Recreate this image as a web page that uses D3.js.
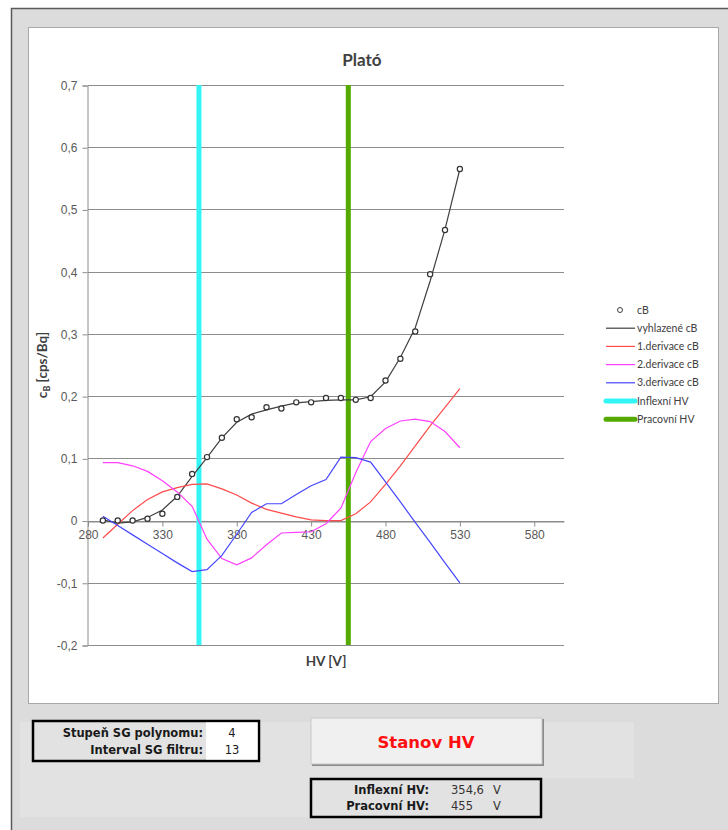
<!DOCTYPE html>
<html lang="cs">
<head>
<meta charset="utf-8">
<title>Plató</title>
<script src="https://cdn.jsdelivr.net/npm/d3@7/dist/d3.min.js"></script>
<style>
  body { margin: 0; background: #fff; }
  svg { display: block; font-family: Lato, "Open Sans", sans-serif; }
  .tick text { fill: #595959; font-size: 12px; }
  .panel text { font-family: "DejaVu Sans", sans-serif; }
</style>
</head>
<body>
<script>
// HV [V]
var hv = [290, 300, 310, 320, 330, 340, 350, 360, 370, 380, 390, 400, 410,
          420, 430, 440, 450, 460, 470, 480, 490, 500, 510, 520, 530];
// measured cB
var cB = [0.000, 0.000, 0.000, 0.003, 0.011, 0.038, 0.075, 0.102, 0.133, 0.163, 0.166, 0.182, 0.180,
          0.190, 0.190, 0.197, 0.197, 0.194, 0.197, 0.225, 0.260, 0.304, 0.396, 0.467, 0.565];
// SG smoothed cB
var smooth = [0.001, -0.004, -0.002, 0.005, 0.017, 0.039, 0.071, 0.101, 0.133, 0.158, 0.171, 0.178, 0.184,
              0.189, 0.191, 0.193, 0.194, 0.194, 0.199, 0.223, 0.262, 0.310, 0.385, 0.468, 0.565];
var d1 = [-0.028, -0.006, 0.016, 0.034, 0.046, 0.053, 0.058, 0.059, 0.051, 0.041, 0.028, 0.018, 0.012,
          0.006, 0.001, 0.000, 0.000, 0.011, 0.030, 0.058, 0.088, 0.120, 0.152, 0.182, 0.212];
var d2 = [0.093, 0.093, 0.088, 0.079, 0.064, 0.046, 0.023, -0.030, -0.061, -0.071, -0.060, -0.039, -0.020,
          -0.019, -0.018, -0.005, 0.020, 0.077, 0.127, 0.148, 0.160, 0.163, 0.159, 0.143, 0.117];
var d3v = [0.007, -0.008, -0.023, -0.038, -0.053, -0.068, -0.082, -0.079, -0.056, -0.022, 0.013, 0.027, 0.027,
           0.042, 0.056, 0.066, 0.102, 0.101, 0.094, 0.062, 0.030, -0.003, -0.035, -0.068, -0.100];

var inflexHV = 354.6;
var pracovniHV = 455;

var xTicks = [280, 330, 380, 430, 480, 530, 580];
var yTicks = [-0.2, -0.1, 0, 0.1, 0.2, 0.3, 0.4, 0.5, 0.6, 0.7];

var series = [
  { name: "vyhlazené cB", values: smooth, color: "#404040" },
  { name: "1.derivace cB", values: d1, color: "#ff4b4b" },
  { name: "2.derivace cB", values: d2, color: "#ff40ff" },
  { name: "3.derivace cB", values: d3v, color: "#4646ff" }
];
var vlines = [
  { name: "Inflexní HV", value: inflexHV, color: "#33f5f5" },
  { name: "Pracovní HV", value: pracovniHV, color: "#55aa00" }
];

var width = 728, height = 830;

var svg = d3.select("body").append("svg")
    .attr("width", width)
    .attr("height", height);

// window background + frame
svg.append("rect").attr("x", 11).attr("y", 8).attr("width", 740).attr("height", 840)
    .attr("fill", "#dcdcdc");
svg.append("path").attr("d", "M11.5,840V8.5H740")
    .attr("fill", "none").attr("stroke", "#5a5a5a").attr("stroke-width", 1.5);

// lighter panel behind controls
svg.append("path")
    .attr("d", "M20,722H634V778H310V817H20Z")
    .attr("fill", "#e2e2e2");

// chart area
svg.append("rect").attr("x", 28.5).attr("y", 27.5).attr("width", 690).attr("height", 676)
    .attr("fill", "#fff").attr("stroke", "#a8a8a8");

var x = d3.scaleLinear().domain([280, 600]).range([88, 564]);
var y = d3.scaleLinear().domain([-0.2, 0.7]).range([645, 85]);

var loc = d3.formatLocale({ decimal: ",", thousands: " ", grouping: [3], currency: ["", ""], minus: "-" });
var fmt = loc.format(".1~f");

// horizontal gridlines
svg.append("g").selectAll("line")
    .data(yTicks)
    .enter().append("line")
    .attr("x1", x(280)).attr("x2", x(600))
    .attr("y1", function(d) { return Math.round(y(d)) + 0.5; })
    .attr("y2", function(d) { return Math.round(y(d)) + 0.5; })
    .attr("stroke", "#8c8c8c");

// y axis
var yAxis = svg.append("g")
    .attr("transform", "translate(" + (x(280) - 0.5) + ",0.5)")
    .call(d3.axisLeft(y).tickValues(yTicks).tickFormat(fmt).tickSize(5).tickPadding(5));
yAxis.select(".domain").attr("stroke", "#8c8c8c");
yAxis.selectAll(".tick line").attr("stroke", "#8c8c8c");

// x axis on the zero line
var xAxis = svg.append("g")
    .attr("transform", "translate(0," + (Math.round(y(0)) + 0.5) + ")")
    .call(d3.axisBottom(x).tickValues(xTicks).tickSize(5).tickPadding(4).tickSizeOuter(0));
xAxis.select(".domain").attr("stroke", "#8c8c8c");
xAxis.selectAll(".tick line").attr("stroke", "#8c8c8c");

// vertical HV lines
svg.append("g").selectAll("line")
    .data(vlines)
    .enter().append("line")
    .attr("x1", function(d) { return x(d.value); })
    .attr("x2", function(d) { return x(d.value); })
    .attr("y1", y(0.7)).attr("y2", y(-0.2))
    .attr("stroke", function(d) { return d.color; })
    .attr("stroke-width", 5);

// series lines
var line = d3.line()
    .x(function(d, i) { return x(hv[i]); })
    .y(function(d) { return y(d); });

svg.append("g").selectAll("path")
    .data(series)
    .enter().append("path")
    .attr("d", function(d) { return line(d.values); })
    .attr("fill", "none")
    .attr("stroke", function(d) { return d.color; })
    .attr("stroke-width", 1.2);

// measured points
svg.append("g").selectAll("circle")
    .data(cB)
    .enter().append("circle")
    .attr("cx", function(d, i) { return x(hv[i]); })
    .attr("cy", function(d) { return y(d); })
    .attr("r", 2.6)
    .attr("fill", "#fff")
    .attr("stroke", "#333")
    .attr("stroke-width", 1.2);

// title and axis labels
svg.append("text").attr("x", 362).attr("y", 66)
    .attr("text-anchor", "middle").attr("font-size", 17).attr("font-weight", "bold")
    .attr("fill", "#404040").text("Plató");

svg.append("text").attr("x", 326).attr("y", 666)
    .attr("text-anchor", "middle").attr("font-size", 13.5).attr("font-weight", "bold")
    .attr("fill", "#404040").text("HV [V]");

var ylab = svg.append("text")
    .attr("transform", "translate(47,365) rotate(-90)")
    .attr("text-anchor", "middle").attr("font-size", 13.5).attr("font-weight", "bold")
    .attr("fill", "#404040");
ylab.append("tspan").text("c");
ylab.append("tspan").attr("font-size", 9).attr("dy", 3).text("B");
ylab.append("tspan").attr("dy", -3).text(" [cps/Bq]");

// legend
var legendItems = [{ name: "cB", type: "point" }]
    .concat(series.map(function(s) { return { name: s.name, type: "line", color: s.color, w: 1.2 }; }))
    .concat(vlines.map(function(v) { return { name: v.name, type: "line", color: v.color, w: 5 }; }));

var leg = svg.append("g").selectAll("g")
    .data(legendItems)
    .enter().append("g")
    .attr("transform", function(d, i) { return "translate(0," + (310 + i * 18.2) + ")"; });

leg.filter(function(d) { return d.type === "line"; }).append("line")
    .attr("x1", 606).attr("x2", 635).attr("y1", 0).attr("y2", 0)
    .attr("stroke", function(d) { return d.color; })
    .attr("stroke-width", function(d) { return d.w; })
    .attr("stroke-linecap", function(d) { return d.w > 2 ? "round" : "butt"; });

leg.filter(function(d) { return d.type === "point"; }).append("circle")
    .attr("cx", 620).attr("cy", 0).attr("r", 2.5)
    .attr("fill", "#fff").attr("stroke", "#404040");

leg.append("text")
    .attr("x", 637).attr("y", 3.5)
    .attr("font-size", 10.5).attr("fill", "#404040")
    .text(function(d) { return d.name; });

// controls panel
var panel = svg.append("g").attr("class", "panel");

var sgLabels = ["Stupeň SG polynomu:", "Interval SG filtru:"];
var sgValues = ["4", "13"];

panel.append("rect").attr("x", 33).attr("y", 721).attr("width", 226).attr("height", 40)
    .attr("fill", "#e2e2e2").attr("stroke", "#000").attr("stroke-width", 2.5);
panel.append("rect").attr("x", 206).attr("y", 722.5).attr("width", 51.5).attr("height", 37)
    .attr("fill", "#fff");
panel.selectAll(".sgl").data(sgLabels).enter().append("text")
    .attr("x", 203).attr("y", function(d, i) { return 737 + i * 17; })
    .attr("text-anchor", "end").attr("font-size", 11.5).attr("font-weight", "bold")
    .attr("fill", "#1a1a1a").text(function(d) { return d; });
panel.selectAll(".sgv").data(sgValues).enter().append("text")
    .attr("x", 232).attr("y", function(d, i) { return 737 + i * 17; })
    .attr("text-anchor", "middle").attr("font-size", 11.5)
    .attr("fill", "#1a1a1a").text(function(d) { return d; });

// button
panel.append("rect").attr("x", 312).attr("y", 719).attr("width", 232).attr("height", 47)
    .attr("fill", "#8a8a8a");
panel.append("rect").attr("x", 311).attr("y", 718).attr("width", 231).attr("height", 46)
    .attr("fill", "#f0f0f0").attr("stroke", "#c8c8c8");
panel.append("text").attr("x", 426).attr("y", 748)
    .attr("text-anchor", "middle").attr("font-size", 16.5).attr("font-weight", "bold")
    .attr("fill", "#ff1010").text("Stanov HV");

// result box
var resLabels = ["Inflexní HV:", "Pracovní HV:"];
var resValues = ["354,6", "455"];

panel.append("rect").attr("x", 311).attr("y", 779).attr("width", 230).attr("height", 38)
    .attr("fill", "#e2e2e2").attr("stroke", "#000").attr("stroke-width", 2.5);
panel.selectAll(".rl").data(resLabels).enter().append("text")
    .attr("x", 429).attr("y", function(d, i) { return 794 + i * 16; })
    .attr("text-anchor", "end").attr("font-size", 11.5).attr("font-weight", "bold")
    .attr("fill", "#1a1a1a").text(function(d) { return d; });
panel.selectAll(".rv").data(resValues).enter().append("text")
    .attr("x", 451).attr("y", function(d, i) { return 794 + i * 16; })
    .attr("font-size", 11.5).attr("fill", "#333").text(function(d) { return d; });
panel.selectAll(".ru").data(resValues).enter().append("text")
    .attr("x", 493).attr("y", function(d, i) { return 794 + i * 16; })
    .attr("font-size", 11.5).attr("fill", "#333").text("V");
</script>
</body>
</html>
